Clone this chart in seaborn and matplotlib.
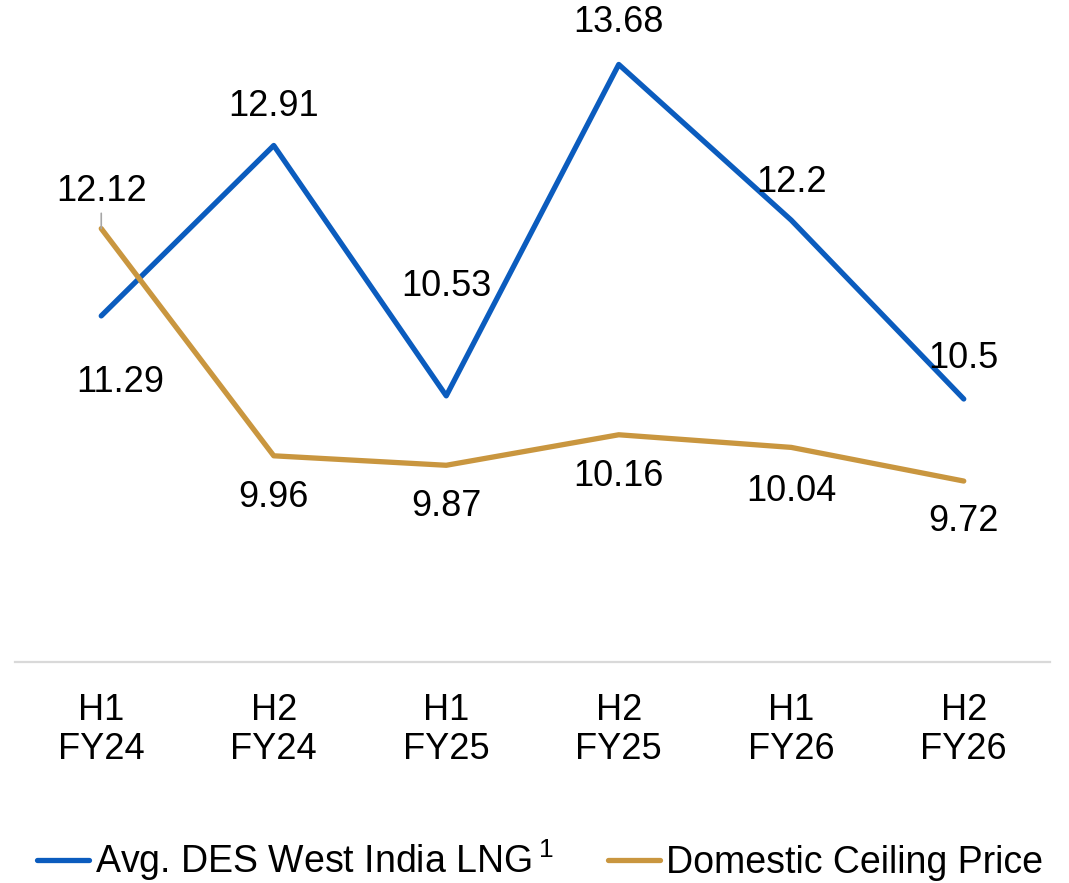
import matplotlib
matplotlib.use("Agg")
import matplotlib.pyplot as plt
import seaborn as sns
import pandas as pd

categories = ["H1\nFY24", "H2\nFY24", "H1\nFY25", "H2\nFY25", "H1\nFY26", "H2\nFY26"]
lng_values = [11.29, 12.91, 10.53, 13.68, 12.2, 10.5]
ceiling_values = [12.12, 9.96, 9.87, 10.16, 10.04, 9.72]
lng_labels = ["11.29", "12.91", "10.53", "13.68", "12.2", "10.5"]
ceiling_labels = ["12.12", "9.96", "9.87", "10.16", "10.04", "9.72"]
series_names = ["Avg. DES West India LNG$\\,^1$", "Domestic Ceiling Price"]

sns.set_theme(style="white")
plt.rcParams["font.family"] = ["Liberation Sans", "DejaVu Sans"]
plt.rcParams["mathtext.fontset"] = "custom"
plt.rcParams["mathtext.rm"] = "Liberation Sans"
plt.rcParams["mathtext.it"] = "Liberation Sans"
plt.rcParams["text.color"] = "black"
plt.rcParams["xtick.color"] = "black"

blue = "#0B5CBE"
gold = "#C9963F"
FS = 26
LW = 3.8

df = pd.DataFrame({
    "x": list(range(len(categories))) * 2,
    "value": lng_values + ceiling_values,
    "series": [series_names[0]] * len(categories) + [series_names[1]] * len(categories),
})

fig = plt.figure(figsize=(10.69, 8.83), dpi=100)
ax = fig.add_axes([15 / 1069, 1 - 662 / 883, 1035 / 1069, 662 / 883])
sns.lineplot(data=df, x="x", y="value", hue="series", palette=[blue, gold],
             linewidth=LW, ax=ax, legend=False, sort=False)

ax.set_xlim(-0.5, len(categories) - 0.5)
ax.set_ylim(8.0, 8.0 + 662 / 105.2)
ax.set_xticks(range(len(categories)))
ax.set_xticklabels(categories, fontsize=FS, linespacing=1.15, color="black")
ax.set_yticks([])
ax.set_xlabel("")
ax.set_ylabel("")
ax.tick_params(axis="x", length=0, pad=22)
for s in ["top", "right", "left"]:
    ax.spines[s].set_visible(False)
ax.spines["bottom"].set_color("#D9D9D9")
ax.spines["bottom"].set_linewidth(1.6)

# blue labels (offsets in points)
lng_offsets = [(14, -48), (0, 28), (0, 79), (0, 30), (0, 27), (0, 29)]
for i, (v, lab) in enumerate(zip(lng_values, lng_labels)):
    dx, dy = lng_offsets[i]
    ax.annotate(lab, (i, v), xytext=(dx, dy), textcoords="offset points",
                ha="center", va="center", fontsize=FS, color="black")

ceil_offsets = [(0, 27), (0, -30), (0, -30), (0, -30), (0, -32), (0, -29)]
for i, (v, lab) in enumerate(zip(ceiling_values, ceiling_labels)):
    dx, dy = ceil_offsets[i]
    ax.annotate(lab, (i, v), xytext=(dx, dy), textcoords="offset points",
                ha="center", va="center", fontsize=FS, color="black")
# leader line for first ceiling label
ax.annotate("", (0, ceiling_values[0]), xytext=(0, 11), textcoords="offset points",
            arrowprops=dict(arrowstyle="-", color="#A6A6A6", lw=1.2, shrinkA=0, shrinkB=0))

handles = [plt.Line2D([], [], color=blue, lw=LW), plt.Line2D([], [], color=gold, lw=LW)]
fig.legend(handles, series_names, loc="center", bbox_to_anchor=(0.505, 1 - 860 / 883),
           ncol=2, frameon=False, fontsize=27, handlelength=1.4, handletextpad=0.15,
           columnspacing=1.45, labelcolor="black")

fig.savefig("out.png", dpi=100)
